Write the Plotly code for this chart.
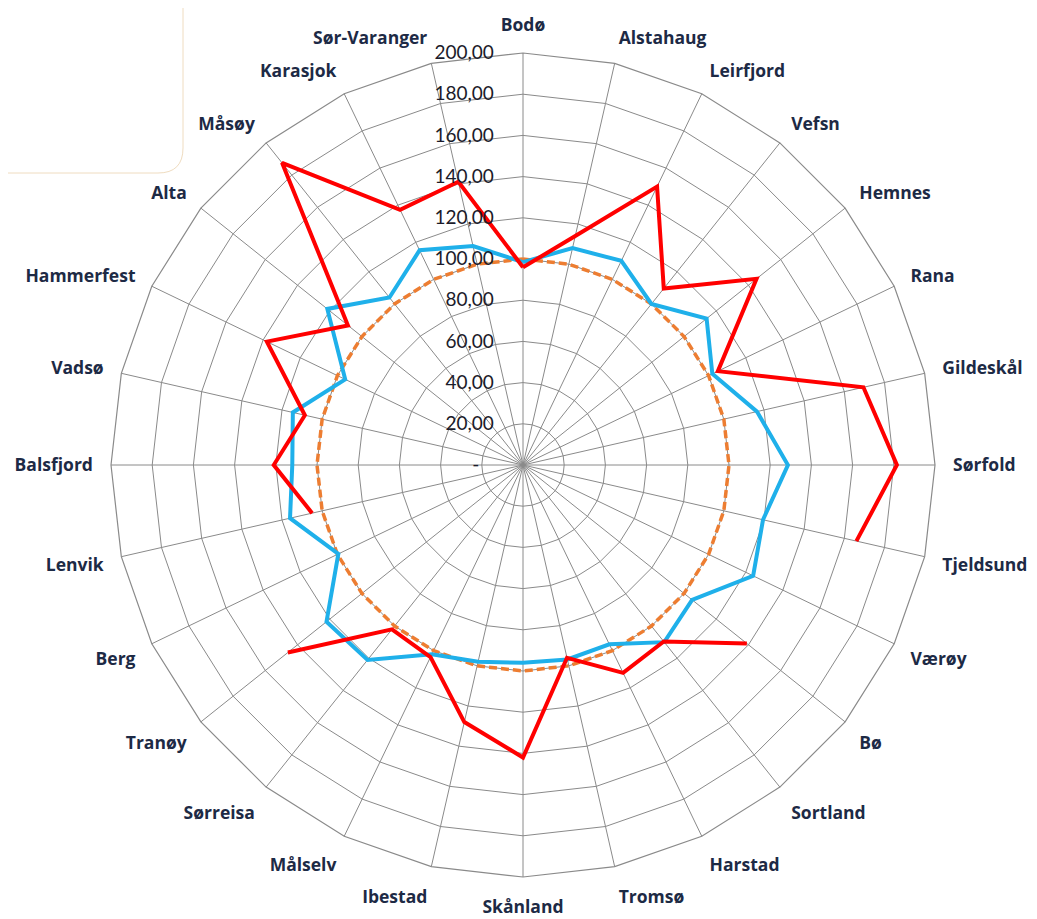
import plotly.graph_objects as go

categories = ["Bodø", "Alstahaug", "Leirfjord", "Vefsn", "Hemnes", "Rana", "Gildeskål",
              "Sørfold", "Tjeldsund", "Værøy", "Bø", "Sortland", "Harstad", "Tromsø",
              "Skånland", "Ibestad", "Målselv", "Sørreisa", "Tranøy", "Berg", "Lenvik",
              "Balsfjord", "Vadsø", "Hammerfest", "Alta", "Måsøy", "Karasjok", "Sør-Varanger"]

red_values = [96, 114, 150, 109.6, 145, 105, 169.5, 181.5, 166, None, 139, 109.6, 112, 96,
              142, 128, 103.5, 102, 146, None, 105, 121, 108.6, 138, 108.7, 187.6, 137.5, 141]

blue_values = [98.5, 108, 110, 100, 114, 102, 116.5, 128.6, 119.5, 124, 105, 110, 96.6, 96.8,
               96, 98, 102, 121, 122, 99.5, 116, 112, 114.6, 95.8, 121.5, 104, 115.7, 109]

orange_values = [100, 100, 100, 100, 100, 100, 100, 100, 100, 100, 100, 100, 100, 100,
                 100, 100, 100, 100, 100, 100, 100, 100, 100, 100, 100, 100, 100, 100]

radial_tickvals = [0, 20, 40, 60, 80, 100, 120, 140, 160, 180, 200]
radial_ticktext = ["-\u00a0\u00a0\u00a0", "20,00", "40,00", "60,00", "80,00", "100,00", "120,00",
                   "140,00", "160,00", "180,00", "200,00"]


def closed(vals):
    return list(vals) + [vals[0]]


theta_closed = closed(categories)

fig = go.Figure()
fig.add_trace(go.Scatterpolar(r=closed(orange_values), theta=theta_closed, mode="lines",
                              line=dict(color="#ed7d31", width=3.5, dash="8px,4px"),
                              name="Snitt", showlegend=False))
fig.add_trace(go.Scatterpolar(r=closed(blue_values), theta=theta_closed, mode="lines",
                              line=dict(color="#1fb0ea", width=4),
                              name="Blå", showlegend=False))
fig.add_trace(go.Scatterpolar(r=closed(red_values), theta=theta_closed, mode="lines",
                              line=dict(color="#ff0000", width=4),
                              connectgaps=False, name="Rød", showlegend=False))

grid = "#8a8a8a"
L, T, PW = 103, 45, 824
fig.update_layout(
    width=1037, height=919,
    margin=dict(l=L, r=1037 - L - PW, t=T, b=919 - T - PW),
    paper_bgcolor="white",
    showlegend=False,
    polar=dict(
        bgcolor="white",
        gridshape="linear",
        domain=dict(x=[0, 1], y=[0, 1]),
        radialaxis=dict(
            range=[0, 200], tickvals=radial_tickvals, ticktext=radial_ticktext,
            angle=90, side="counterclockwise", tickangle=90,
            showline=False, gridcolor=grid, gridwidth=1.2,
            ticks="outside", ticklen=22, tickcolor="rgba(0,0,0,0)",
            tickfont=dict(family="Lato", size=19, color="#1b1b2a"),
        ),
        angularaxis=dict(
            type="category", categoryorder="array", categoryarray=categories,
            direction="clockwise", rotation=90,
            showline=True, linecolor=grid, linewidth=1.2,
            gridcolor=grid, gridwidth=1.2,
            ticks="outside", ticklen=14, tickcolor="rgba(0,0,0,0)",
            tickfont=dict(family="Open Sans", size=17.5, color="#1d2a45", weight="bold"),
        ),
    ),
)

# faint rounded box in the top-left corner
x0, x1 = -(L + 8) / PW, (183 - 8 - L) / PW
y0, y1 = 1 + (T + 8) / PW, 1 - (173 - 8 - T) / PW
rx, ry = 25 / PW, 25 / PW
fig.add_shape(type="path", xref="paper", yref="paper",
              path=(f"M {x0},{y1} L {x1 - rx},{y1} Q {x1},{y1} {x1},{y1 + ry} "
                    f"L {x1},{y0}"),
              line=dict(color="#efdcc0", width=1), fillcolor="rgba(0,0,0,0)")

fig.write_html("out.html")
